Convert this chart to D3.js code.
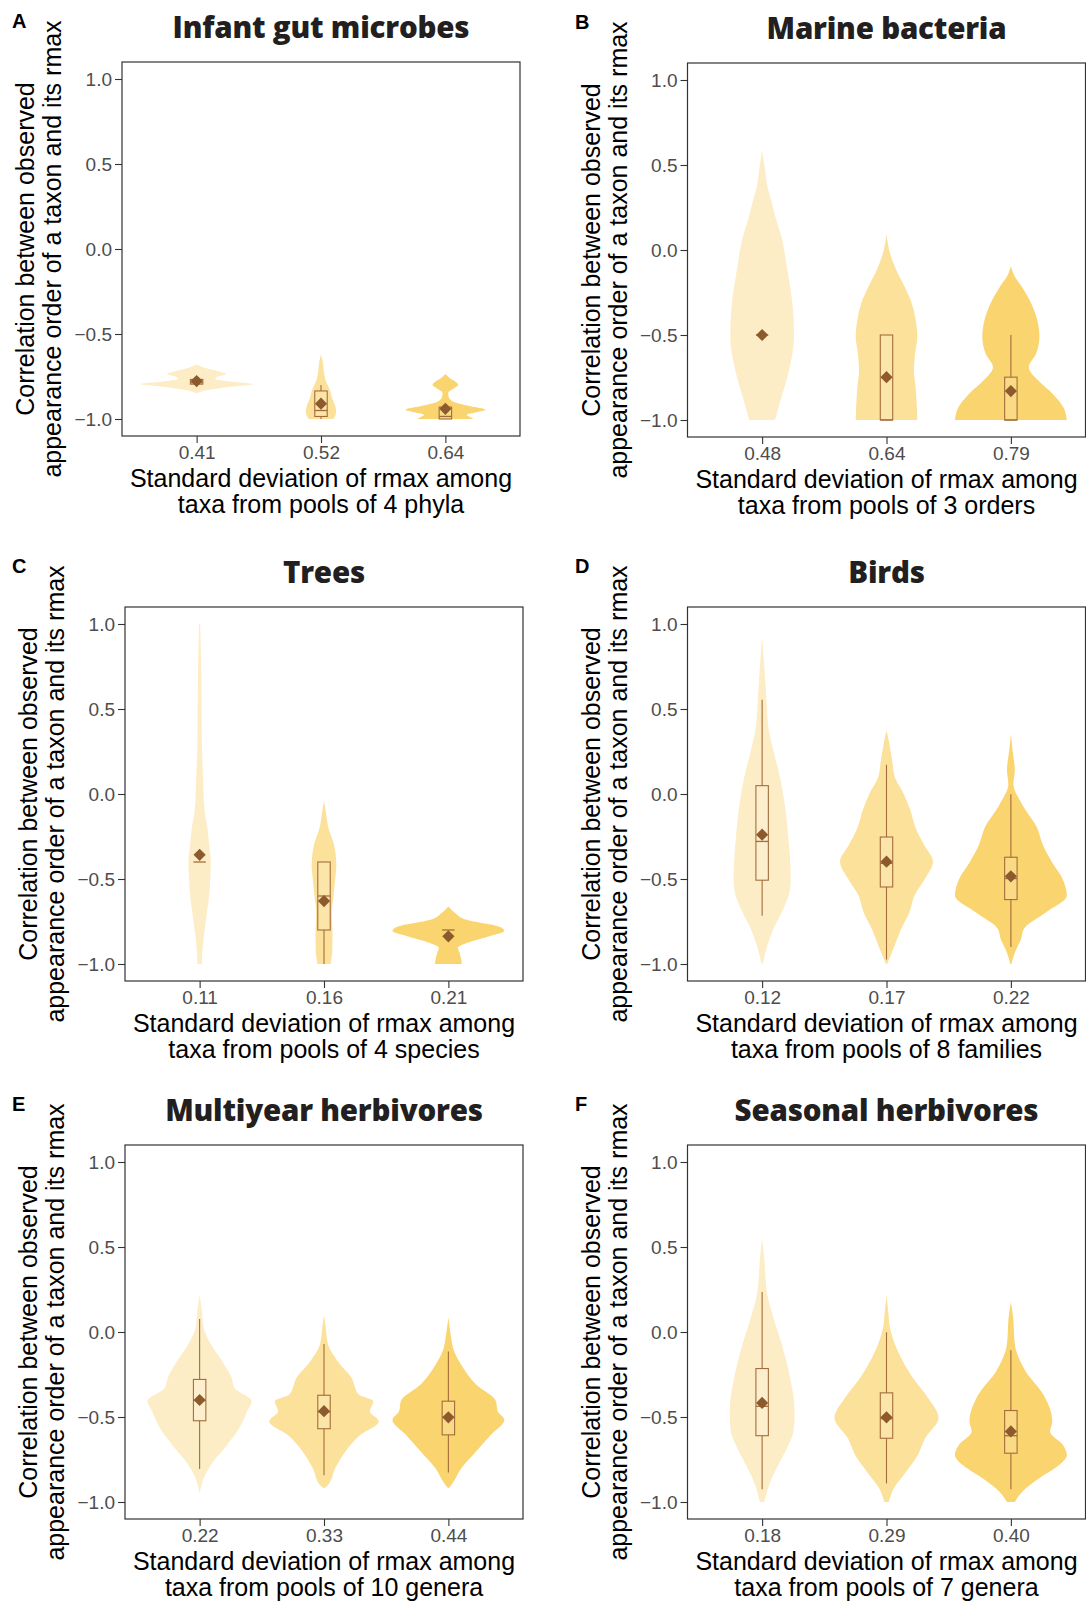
<!DOCTYPE html>
<meta charset="utf-8">
<style>
  body { margin: 0; background: #fff; }
  .axis text { font-family: "Liberation Sans", Arial, sans-serif; font-size: 19px; fill: #4d4d4d; }
  .axis line { stroke: #333; stroke-width: 1.1; }
  .axis path { display: none; }
  .axtitle { font-family: "Liberation Sans", Arial, sans-serif; font-size: 25px; fill: #000; }
  .ptitle { font-family: "Open Sans", sans-serif; font-weight: 800; font-size: 29.5px; fill: #231f20; letter-spacing: -0.2px; }
  .letter { font-family: "Liberation Sans", Arial, sans-serif; font-weight: bold; font-size: 20px; fill: #000; }
  .frame { fill: none; stroke: #333; stroke-width: 1.2; }
</style>
<body>
<svg></svg>
<script src="https://d3js.org/d3.v7.min.js"></script>
<script>

var letters = ['A', 'B', 'C', 'D', 'E', 'F'];
var titles = ['Infant gut microbes', 'Marine bacteria', 'Trees', 'Birds', 'Multiyear herbivores', 'Seasonal herbivores'];
var poolText = ['taxa from pools of 4 phyla', 'taxa from pools of 3 orders', 'taxa from pools of 4 species',
                'taxa from pools of 8 families', 'taxa from pools of 10 genera', 'taxa from pools of 7 genera'];
var sdLabels = [['0.41', '0.52', '0.64'], ['0.48', '0.64', '0.79'], ['0.11', '0.16', '0.21'],
                ['0.12', '0.17', '0.22'], ['0.22', '0.33', '0.44'], ['0.18', '0.29', '0.40']];
var yTicks = [-1, -0.5, 0, 0.5, 1];
var fills = ['#fdedc6', '#fce19b', '#f9d46f'];

// violin outlines, top to bottom: [correlation, relative half width]
var violinsA = [
  [[-0.68,0],[-0.70,0.15],[-0.72,0.40],[-0.735,0.53],[-0.75,0.38],[-0.765,0.33],[-0.78,0.6],[-0.795,1.0],[-0.81,0.6],[-0.83,0.2],[-0.85,0]],
  [[-0.62,0],[-0.66,0.03],[-0.72,0.05],[-0.78,0.09],[-0.83,0.16],[-0.88,0.2],[-0.93,0.26],[-0.96,0.27],[-0.99,0.24],[-1.0,0.22]],
  [[-0.735,0],[-0.76,0.08],[-0.785,0.2],[-0.80,0.23],[-0.82,0.15],[-0.845,0.05],[-0.87,0.06],[-0.90,0.15],[-0.925,0.45],[-0.945,0.71],[-0.96,0.55],[-0.975,0.38],[-0.99,0.45],[-1.0,0.5]]
];
var violinsB = [
  [[0.586,0],[0.48,0.05],[0.38,0.09],[0.283,0.17],[0.18,0.25],[0.084,0.34],[-0.114,0.45],[-0.312,0.54],[-0.51,0.57],[-0.708,0.48],[-0.907,0.31],[-1.0,0.23]],
  [[0.094,0],[-0.015,0.06],[-0.114,0.17],[-0.213,0.32],[-0.312,0.45],[-0.411,0.52],[-0.51,0.55],[-0.61,0.51],[-0.708,0.49],[-0.807,0.52],[-0.907,0.54],[-1.0,0.55]],
  [[-0.094,0],[-0.15,0.06],[-0.213,0.19],[-0.312,0.36],[-0.411,0.47],[-0.51,0.51],[-0.61,0.45],[-0.689,0.32],[-0.768,0.49],[-0.847,0.75],[-0.927,0.94],[-1.0,1.0]]
];
var violinsC = [
  [[1.0,0.01],[0.696,0.03],[0.298,0.04],[0.1,0.06],[-0.1,0.09],[-0.2,0.14],[-0.3,0.17],[-0.4,0.2],[-0.5,0.19],[-0.6,0.17],[-0.7,0.13],[-0.8,0.09],[-0.9,0.055],[-1.0,0.04]],
  [[-0.04,0],[-0.1,0.03],[-0.2,0.08],[-0.3,0.18],[-0.42,0.22],[-0.5,0.2],[-0.6,0.17],[-0.7,0.14],[-0.8,0.15],[-0.9,0.15],[-1.0,0.12]],
  [[-0.662,0],[-0.7,0.12],[-0.74,0.32],[-0.78,0.9],[-0.806,1.0],[-0.835,0.75],[-0.875,0.34],[-0.905,0.17],[-0.935,0.2],[-0.975,0.23],[-1.0,0.24]]
];
var violinsD = [
  [[0.927,0],[0.793,0.03],[0.595,0.07],[0.396,0.11],[0.257,0.2],[0.098,0.32],[-0.1,0.42],[-0.3,0.48],[-0.497,0.51],[-0.577,0.49],[-0.696,0.35],[-0.795,0.2],[-0.895,0.09],[-1.0,0.01]],
  [[0.376,0],[0.297,0.05],[0.198,0.1],[0.098,0.15],[-0.001,0.31],[-0.1,0.43],[-0.2,0.52],[-0.299,0.67],[-0.398,0.83],[-0.497,0.69],[-0.597,0.5],[-0.696,0.41],[-0.795,0.26],[-0.895,0.14],[-1.0,0.01]],
  [[0.353,0],[0.257,0.03],[0.138,0.07],[0.059,0.045],[-0.06,0.2],[-0.2,0.47],[-0.299,0.57],[-0.398,0.73],[-0.497,0.92],[-0.597,1.0],[-0.696,0.63],[-0.795,0.23],[-0.855,0.18],[-0.934,0.07],[-1.0,0.01]]
];
var violinsE = [
  [[0.219,0],[0.126,0.04],[0.028,0.07],[-0.071,0.2],[-0.17,0.4],[-0.269,0.57],[-0.328,0.62],[-0.407,0.93],[-0.466,0.85],[-0.565,0.71],[-0.664,0.49],[-0.763,0.24],[-0.862,0.07],[-0.95,0]],
  [[0.099,0],[0.028,0.03],[-0.071,0.07],[-0.17,0.24],[-0.269,0.49],[-0.368,0.62],[-0.407,0.88],[-0.466,0.82],[-0.526,0.98],[-0.605,0.65],[-0.704,0.38],[-0.802,0.2],[-0.901,0.07],[-0.92,0]],
  [[0.087,0],[-0.012,0.04],[-0.111,0.1],[-0.209,0.26],[-0.308,0.49],[-0.407,0.85],[-0.466,0.88],[-0.516,1.0],[-0.605,0.76],[-0.704,0.49],[-0.802,0.23],[-0.901,0.05],[-0.92,0]]
];
var violinsF = [
  [[0.555,0],[0.423,0.04],[0.225,0.09],[0.087,0.2],[-0.071,0.35],[-0.269,0.5],[-0.466,0.58],[-0.585,0.56],[-0.664,0.47],[-0.763,0.32],[-0.862,0.17],[-0.96,0.07],[-1.0,0.04]],
  [[0.215,0],[0.126,0.03],[0.028,0.06],[-0.111,0.2],[-0.269,0.47],[-0.387,0.74],[-0.506,0.93],[-0.625,0.69],[-0.723,0.56],[-0.822,0.35],[-0.921,0.13],[-1.0,0.04]],
  [[0.176,0],[0.087,0.04],[-0.071,0.07],[-0.229,0.26],[-0.368,0.58],[-0.526,0.74],[-0.585,0.7],[-0.664,0.93],[-0.723,1.0],[-0.783,0.86],[-0.862,0.5],[-0.941,0.2],[-1.0,0.07]]
];

// boxes: [whisker low, q1, median, q3, whisker high, mean]
var boxesA = [[-0.80,-0.795,-0.787,-0.767,-0.76,-0.777], [-1.0,-0.985,-0.95,-0.835,-0.80,-0.91], [-1.0,-1.0,-0.985,-0.93,-0.93,-0.94]];
var boxesB = [[-0.5,-0.5,-0.5,-0.5,-0.5,-0.5], [-1.0,-1.0,-1.0,-0.5,-0.5,-0.748], [-1.0,-1.0,-1.0,-0.748,-0.5,-0.83]];
var boxesC = [[-0.4,-0.4,-0.4,-0.4,-0.4,-0.358], [-1.0,-0.8,-0.6,-0.4,-0.4,-0.63], [-0.8,-0.8,-0.8,-0.8,-0.8,-0.837]];
var boxesD = [[-0.716,-0.507,-0.279,0.049,0.555,-0.239], [-0.974,-0.547,-0.408,-0.253,0.172,-0.398], [-0.9,-0.621,-0.497,-0.372,-0.001,-0.484]];
var boxesE = [[-0.806,-0.522,-0.403,-0.279,0.077,-0.40], [-0.842,-0.569,-0.47,-0.372,-0.071,-0.466], [-0.826,-0.605,-0.502,-0.407,-0.115,-0.502]];
var boxesF = [[-0.925,-0.61,-0.437,-0.215,0.235,-0.417], [-0.891,-0.625,-0.51,-0.358,-0.002,-0.502], [-0.925,-0.713,-0.61,-0.462,-0.107,-0.585]];

var violins = [violinsA, violinsB, violinsC, violinsD, violinsE, violinsF];
var boxes = [boxesA, boxesB, boxesC, boxesD, boxesE, boxesF];

var W = 1086, H = 1603;
var pw = 398, ph = 374;
// top-left corner of each plot frame
var frames = [[122, 62], [687.5, 63], [125, 607], [687.5, 607], [125, 1145], [687.5, 1145]];

var svg = d3.select('svg')
    .attr('width', W)
    .attr('height', H);

var boxStroke = '#a36d3b',
    meanFill = '#8c5a2d';

letters.forEach(function(letter, i) {
    var fx = frames[i][0], fy = frames[i][1];
    var col = i % 2;

    svg.append('text')
        .attr('class', 'letter')
        .attr('x', col === 0 ? 12 : 575)
        .attr('y', fy - 34)
        .text(letter);

    var g = svg.append('g')
        .attr('transform', 'translate(' + fx + ',' + fy + ')');

    var x = d3.scalePoint().domain(sdLabels[i]).range([0, pw]).padding(0.6);
    var y = d3.scaleLinear().domain([-1.1, 1.1]).range([ph, 0]);
    var wScale = d3.scaleLinear().domain([0, 1]).range([0, 0.45 * x.step()]);
    var boxW = 0.1 * x.step();

    g.append('text')
        .attr('class', 'ptitle')
        .attr('x', pw / 2)
        .attr('y', -24)
        .attr('text-anchor', 'middle')
        .text(titles[i]);

    var groups = g.selectAll('g.grp')
        .data(sdLabels[i])
        .enter().append('g')
        .attr('class', 'grp');

    groups.append('path')
        .attr('fill', function(d, k) { return fills[k]; })
        .attr('d', function(d, k) {
            var cx = x(d);
            return d3.area()
                .y(function(p) { return y(p[0]); })
                .x0(function(p) { return cx - wScale(p[1]); })
                .x1(function(p) { return cx + wScale(p[1]); })
                .curve(d3.curveMonotoneY)(violins[i][k]);
        });

    // whiskers
    groups.append('line')
        .attr('x1', function(d) { return x(d); })
        .attr('x2', function(d) { return x(d); })
        .attr('y1', function(d, k) { return y(boxes[i][k][3]); })
        .attr('y2', function(d, k) { return y(boxes[i][k][4]); })
        .attr('stroke', boxStroke).attr('stroke-width', 1.1);
    groups.append('line')
        .attr('x1', function(d) { return x(d); })
        .attr('x2', function(d) { return x(d); })
        .attr('y1', function(d, k) { return y(boxes[i][k][0]); })
        .attr('y2', function(d, k) { return y(boxes[i][k][1]); })
        .attr('stroke', boxStroke).attr('stroke-width', 1.1);

    groups.append('rect')
        .attr('x', function(d) { return x(d) - boxW / 2; })
        .attr('width', boxW)
        .attr('y', function(d, k) { return y(boxes[i][k][3]); })
        .attr('height', function(d, k) { return y(boxes[i][k][1]) - y(boxes[i][k][3]); })
        .attr('fill', 'rgba(255,255,255,0.15)')
        .attr('stroke', boxStroke).attr('stroke-width', 1.1);

    groups.append('line')
        .attr('x1', function(d) { return x(d) - boxW / 2; })
        .attr('x2', function(d) { return x(d) + boxW / 2; })
        .attr('y1', function(d, k) { return y(boxes[i][k][2]); })
        .attr('y2', function(d, k) { return y(boxes[i][k][2]); })
        .attr('stroke', boxStroke).attr('stroke-width', 1.3);

    groups.append('path')
        .attr('d', d3.symbol(d3.symbolDiamond2, 95))
        .attr('transform', function(d, k) { return 'translate(' + x(d) + ',' + y(boxes[i][k][5]) + ')'; })
        .attr('fill', meanFill);

    g.append('g')
        .attr('class', 'axis')
        .call(d3.axisLeft(y).tickValues(yTicks).tickFormat(d3.format('.1f')).tickSize(7).tickPadding(3));

    g.append('g')
        .attr('class', 'axis')
        .attr('transform', 'translate(0,' + ph + ')')
        .call(d3.axisBottom(x).tickSize(7).tickPadding(3));

    g.append('rect')
        .attr('class', 'frame')
        .attr('width', pw)
        .attr('height', ph);

    var xt = g.append('text')
        .attr('class', 'axtitle')
        .attr('text-anchor', 'middle')
        .attr('x', pw / 2)
        .attr('y', ph + 51);
    xt.append('tspan').attr('x', pw / 2).text('Standard deviation of rmax among');
    xt.append('tspan').attr('x', pw / 2).attr('dy', 26).text(poolText[i]);

    var yt = g.append('text')
        .attr('class', 'axtitle')
        .attr('text-anchor', 'middle')
        .attr('transform', 'translate(-88,' + (ph / 2) + ')rotate(-90)');
    yt.append('tspan').attr('x', 0).text('Correlation between observed');
    yt.append('tspan').attr('x', 0).attr('dy', 27).text('appearance order of a taxon and its rmax');
});

</script>
